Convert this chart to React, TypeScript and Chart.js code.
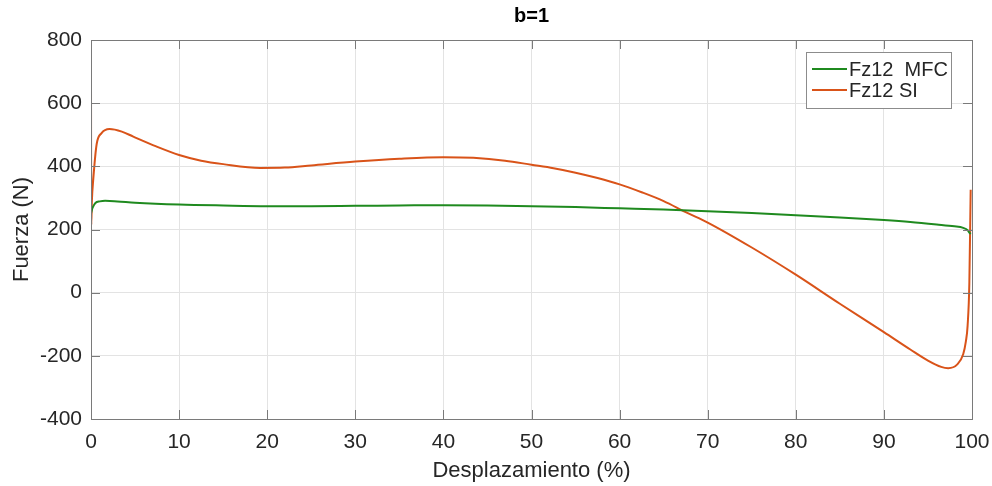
import React, { useEffect, useRef } from "react";
import { Chart, registerables } from "chart.js";

Chart.register(...registerables);

const TITLE = "b=1";
const X_LABEL = "Desplazamiento (%)";
const Y_LABEL = "Fuerza (N)";
const X_TICKS = [0, 10, 20, 30, 40, 50, 60, 70, 80, 90, 100];
const Y_TICKS = [-400, -200, 0, 200, 400, 600, 800];
const SERIES_NAMES = ["Fz12  MFC", "Fz12 SI"];
const SERIES_COLORS = ["#1f8a1f", "#d95319"];

const MFC_X = [0, 0.1, 0.2, 0.5, 1, 1.6, 3, 5, 10, 15, 20, 25, 30, 35, 40, 45, 50, 55, 60, 65, 70, 75, 80, 85, 90, 93, 96, 98, 99, 99.5, 99.7, 99.85];
const MFC_Y = [250, 262, 270, 284, 289, 291, 289, 285, 279, 276, 274, 274, 275, 276, 277, 276, 274, 271, 267, 263, 258, 252, 245, 238, 230, 224, 216, 210, 205, 198, 190, 186];

const SI_X = [0, 0.03, 0.1, 0.26, 0.64, 1.2, 2.1, 3.5, 4.8, 7.4, 10, 12.5, 15, 19.2, 22, 25, 30, 35, 40, 43.4, 47, 50, 52.5, 55, 57.5, 60, 62.5, 65, 67.5, 70, 75, 80, 85, 90, 93, 95, 96.5, 97.3, 98.3, 99, 99.3, 99.5, 99.7, 99.85];
const SI_Y = [650, 215, 290, 360, 470, 505, 518, 510, 494, 463, 436, 418, 407, 395, 396, 403, 415, 424, 429, 427, 418, 405, 394, 380, 363, 343, 318, 290, 255, 222, 143, 57, -35, -125, -180, -215, -235, -239, -228, -195, -155, -105, 32, 326];

const FONT = "'Liberation Sans', Arial, Helvetica, sans-serif";
const TEXT_COLOR = "#262626";
const AXIS_COLOR = "#7a7a7a";
const GRID_COLOR = "#e3e3e3";

const decorPlugin = {
  id: "decor",
  afterDraw(chart: any) {
    const { ctx, chartArea } = chart;
    const { left, right, top, bottom } = chartArea;
    const xs = chart.scales.x;
    const ys = chart.scales.y;
    ctx.save();
    ctx.strokeStyle = AXIS_COLOR;
    ctx.lineWidth = 1;
    ctx.strokeRect(Math.round(left) + 0.5, Math.round(top) + 0.5, Math.round(right - left), Math.round(bottom - top));
    const tl = 9;
    ctx.beginPath();
    X_TICKS.forEach((v) => {
      const px = Math.round(xs.getPixelForValue(v)) + 0.5;
      ctx.moveTo(px, bottom);
      ctx.lineTo(px, bottom - tl);
      ctx.moveTo(px, top);
      ctx.lineTo(px, top + tl);
    });
    Y_TICKS.forEach((v) => {
      const py = Math.round(ys.getPixelForValue(v)) + 0.5;
      ctx.moveTo(left, py);
      ctx.lineTo(left + tl, py);
      ctx.moveTo(right, py);
      ctx.lineTo(right - tl, py);
    });
    ctx.stroke();
    ctx.fillStyle = "#000";
    ctx.font = `bold 20px ${FONT}`;
    ctx.textAlign = "center";
    ctx.textBaseline = "middle";
    ctx.fillText(TITLE, (left + right) / 2, 16);
    const lx = 806, ly = 52, lw = 145, lh = 56;
    ctx.fillStyle = "#fff";
    ctx.fillRect(lx, ly, lw, lh);
    ctx.strokeStyle = "#8c8c8c";
    ctx.strokeRect(lx + 0.5, ly + 0.5, lw, lh);
    ctx.font = `20px ${FONT}`;
    ctx.textAlign = "left";
    const rows = [69, 90];
    SERIES_NAMES.forEach((name, i) => {
      ctx.strokeStyle = SERIES_COLORS[i];
      ctx.lineWidth = 2;
      ctx.beginPath();
      ctx.moveTo(812, rows[i]);
      ctx.lineTo(847, rows[i]);
      ctx.stroke();
      ctx.fillStyle = TEXT_COLOR;
      ctx.fillText(name, 849, rows[i] + 1);
    });
    ctx.restore();
  },
};

export default function App() {
  const ref = useRef<HTMLCanvasElement | null>(null);
  useEffect(() => {
    if (!ref.current) return;
    const chart = new Chart(ref.current, {
      type: "line",
      data: {
        datasets: [
          {
            label: SERIES_NAMES[0],
            data: MFC_X.map((x, i) => ({ x, y: MFC_Y[i] })),
            borderColor: SERIES_COLORS[0],
            backgroundColor: SERIES_COLORS[0],
            borderWidth: 2,
            pointRadius: 0,
            cubicInterpolationMode: "monotone",
            fill: false,
          },
          {
            label: SERIES_NAMES[1],
            data: SI_X.map((x, i) => ({ x, y: SI_Y[i] })),
            borderColor: SERIES_COLORS[1],
            backgroundColor: SERIES_COLORS[1],
            borderWidth: 2,
            pointRadius: 0,
            cubicInterpolationMode: "monotone",
            fill: false,
          },
        ],
      },
      options: {
        responsive: false,
        animation: false,
        devicePixelRatio: 1,
        layout: { padding: { left: 0, right: 20, top: 40, bottom: 0 } },
        plugins: { legend: { display: false }, tooltip: { enabled: false }, title: { display: false } },
        scales: {
          x: {
            type: "linear",
            min: 0,
            max: 100,
            afterBuildTicks: (s: any) => { s.ticks = X_TICKS.map((v) => ({ value: v })); },
            afterFit: (s: any) => { s.height = 67; s.paddingLeft = 0; s.paddingRight = 0; },
            grid: { color: GRID_COLOR, drawTicks: false },
            border: { display: false },
            ticks: { color: TEXT_COLOR, font: { family: FONT, size: 21 }, padding: 11, maxRotation: 0 },
            title: { display: true, text: X_LABEL, color: TEXT_COLOR, font: { family: FONT, size: 22 }, padding: { top: 0, bottom: 2 } },
          },
          y: {
            type: "linear",
            min: -400,
            max: 800,
            afterBuildTicks: (s: any) => { s.ticks = Y_TICKS.map((v) => ({ value: v })); },
            afterFit: (s: any) => { s.width = 91; s.paddingTop = 0; s.paddingBottom = 0; },
            grid: { color: GRID_COLOR, drawTicks: false },
            border: { display: false },
            ticks: { color: TEXT_COLOR, font: { family: FONT, size: 21 }, padding: 9 },
            title: { display: true, text: Y_LABEL, color: TEXT_COLOR, font: { family: FONT, size: 22 }, padding: { top: 9, bottom: 0 } },
          },
        },
      },
      plugins: [decorPlugin],
    } as any);
    return () => chart.destroy();
  }, []);
  return (
    <div style={{ position: "fixed", left: 0, top: 0, width: 992, height: 486, background: "#fff" }}>
      <canvas ref={ref} width={992} height={486} style={{ display: "block" }} />
    </div>
  );
}
